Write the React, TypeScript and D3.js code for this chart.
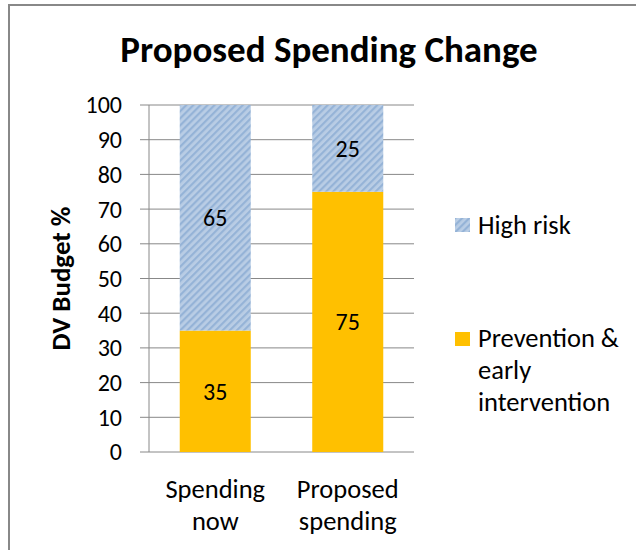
import * as d3 from "d3";

const categories = [["Spending", "now"], ["Proposed", "spending"]];
const highRisk = [65, 25];
const prevention = [35, 75];
const yTicks = [0, 10, 20, 30, 40, 50, 60, 70, 80, 90, 100];
const seriesNames = ["High risk", ["Prevention &", "early", "intervention"]];

const FONT = "Carlito, 'Liberation Sans', Arial, sans-serif";
const ORANGE = "#FFC000";
const GRID = "#888888";

export default function App() {
  const width = 636;
  const height = 550;
  const keys = categories.map((c) => c.join(" "));

  const x = d3.scaleBand<string>().domain(keys).range([149, 414]).paddingInner(0.464).paddingOuter(0.232);
  const y = d3.scaleLinear().domain([0, 100]).range([452, 105]);

  const stack = keys.map((k, i) => ({ key: k, low: prevention[i], high: highRisk[i] }));

  return (
    <svg
      width={width}
      height={height}
      style={{ position: "absolute", left: 0, top: 0, background: "#fff" }}
      fontFamily={FONT}
    >
      <defs>
        <pattern id="hatch" width={5} height={5} patternUnits="userSpaceOnUse" patternTransform="rotate(45)">
          <rect width={5} height={5} fill="#B9CDE5" />
          <rect width={2.2} height={5} fill="#95B3D7" />
        </pattern>
      </defs>

      {/* outer frame */}
      <rect x={9} y={5} width={width + 10} height={height + 10} fill="none" stroke={GRID} strokeWidth={2} />

      <text x={329} y={50} dy="0.33em" textAnchor="middle" fontSize={37} fontWeight="bold" fill="#000">
        Proposed Spending Change
      </text>

      {/* gridlines + y ticks */}
      {yTicks.map((t) => (
        <g key={t}>
          <line x1={140} x2={414} y1={y(t)} y2={y(t)} stroke={GRID} strokeWidth={1} />
          <text x={122} y={y(t)} dy="0.35em" textAnchor="end" fontSize={24} fill="#000">
            {t}
          </text>
        </g>
      ))}
      <line x1={149} x2={149} y1={y(100)} y2={y(0)} stroke={GRID} strokeWidth={1} />

      <text
        transform={`translate(70,${(y(0) + y(100)) / 2}) rotate(-90)`}
        textAnchor="middle"
        fontSize={27}
        fontWeight="bold"
        fill="#000"
      >
        DV Budget %
      </text>

      {stack.map((d) => (
        <g key={d.key}>
          <rect x={x(d.key)} y={y(d.low)} width={x.bandwidth()} height={y(0) - y(d.low)} fill={ORANGE} />
          <rect x={x(d.key)} y={y(d.low + d.high)} width={x.bandwidth()} height={y(d.low) - y(d.low + d.high)} fill="url(#hatch)" />
          <text x={(x(d.key) || 0) + x.bandwidth() / 2} y={y(d.low / 2)} dy="0.35em" textAnchor="middle" fontSize={24}>
            {d.low}
          </text>
          <text x={(x(d.key) || 0) + x.bandwidth() / 2} y={y(d.low + d.high / 2)} dy="0.35em" textAnchor="middle" fontSize={24}>
            {d.high}
          </text>
        </g>
      ))}

      {categories.map((c, i) => (
        <text key={keys[i]} textAnchor="middle" fontSize={26.5} fill="#000">
          {c.map((line, j) => (
            <tspan key={j} x={(x(keys[i]) || 0) + x.bandwidth() / 2} y={489 + j * 32} dy="0.35em">
              {line}
            </tspan>
          ))}
        </text>
      ))}

      {/* legend */}
      <rect x={455} y={218} width={15} height={14} fill="url(#hatch)" />
      <text x={478} y={225} dy="0.35em" fontSize={26.5} fill="#000">
        {seriesNames[0] as string}
      </text>
      <rect x={455} y={332} width={15} height={14} fill={ORANGE} />
      <text fontSize={26.5} fill="#000">
        {(seriesNames[1] as string[]).map((line, j) => (
          <tspan key={j} x={478} y={338 + j * 32} dy="0.35em">
            {line}
          </tspan>
        ))}
      </text>
    </svg>
  );
}
